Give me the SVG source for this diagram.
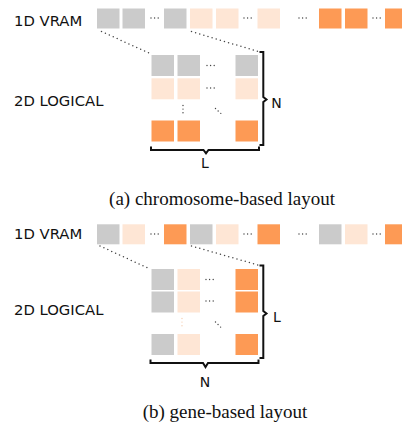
<svg xmlns="http://www.w3.org/2000/svg" width="402" height="425" viewBox="0 0 402 425">
  <style>
    .g { fill: #cbcbcb; }
    .p { fill: #fee6d5; }
    .o { fill: #fd9a55; }
    .lbl { font-family: "DejaVu Sans", sans-serif; font-size: 14.8px; fill: #111; }
    .dim { font-family: "DejaVu Sans", sans-serif; font-size: 14px; fill: #111; text-anchor: middle; }
    .cap { font-family: "Liberation Serif", serif; font-size: 19px; fill: #111; text-anchor: middle; }
    .dots { stroke: #444; stroke-width: 1.4; stroke-linecap: round; stroke-dasharray: 0 3.6; fill: none; }
    .faint { stroke: #f6cfb3; }
    .lead { stroke: #444; stroke-width: 1.5; stroke-linecap: round; stroke-dasharray: 0 4.3; fill: none; }
    .brace { stroke: #111; stroke-width: 2; fill: none; stroke-linejoin: miter; }
  </style>
  <defs>
    <rect id="cell" width="22.5" height="20"/>
    <rect id="big" width="22.5" height="21"/>
  </defs>

  <!-- (a) chromosome-based layout -->
  <g id="a-vram">
    <text class="lbl" x="14" y="26">1D VRAM</text>
    <use href="#cell" class="g" x="97" y="8.5"/>
    <use href="#cell" class="g" x="122.5" y="8.5"/>
    <use href="#cell" class="g" x="164" y="8.5"/>
    <use href="#cell" class="p" x="190" y="8.5"/>
    <use href="#cell" class="p" x="216" y="8.5"/>
    <use href="#cell" class="p" x="257.5" y="8.5"/>
    <use href="#cell" class="o" x="319" y="8.5"/>
    <use href="#cell" class="o" x="345" y="8.5"/>
    <use href="#cell" class="o" x="385" y="8.5"/>
    <line class="dots" x1="151" y1="18" x2="159" y2="18"/>
    <line class="dots" x1="244" y1="18" x2="252" y2="18"/>
    <line class="dots" x1="299" y1="18" x2="307" y2="18"/>
    <line class="dots" x1="373" y1="18" x2="381" y2="18"/>
  </g>
  <g id="a-logical">
    <text class="lbl" x="14" y="106">2D LOGICAL</text>
    <use href="#big" class="g" x="151.5" y="55"/>
    <use href="#big" class="g" x="177.5" y="55"/>
    <use href="#big" class="g" x="235.5" y="55"/>
    <use href="#big" class="p" x="151.5" y="78.3"/>
    <use href="#big" class="p" x="177.5" y="78.3"/>
    <use href="#big" class="p" x="235.5" y="78.3"/>
    <use href="#big" class="o" x="151.5" y="120.5"/>
    <use href="#big" class="o" x="177.5" y="120.5"/>
    <use href="#big" class="o" x="235.5" y="120.5"/>
    <line class="dots" x1="207" y1="65.5" x2="214.5" y2="65.5"/>
    <line class="dots" x1="207" y1="88" x2="214.5" y2="88"/>
    <line class="dots" x1="183" y1="105.5" x2="183" y2="113"/>
    <line class="dots" x1="215.5" y1="108.5" x2="221.5" y2="114"/>
  </g>
  <g id="a-braces">
    <path class="brace" d="M259.5 52 H263.3 V97 L266.5 99.5 L263.3 102 V145 H259.5"/>
    <path class="brace" d="M151 146.5 V150 H203.5 L206 153.3 L208.5 150 H259 V146.5"/>
    <text class="dim" x="276.5" y="108.3">N</text>
    <text class="dim" x="205" y="168">L</text>
  </g>

  <!-- (b) gene-based layout -->
  <g id="b-vram">
    <text class="lbl" x="14" y="239">1D VRAM</text>
    <use href="#cell" class="g" x="97" y="224.3"/>
    <use href="#cell" class="p" x="122.5" y="224.3"/>
    <use href="#cell" class="o" x="164" y="224.3"/>
    <use href="#cell" class="g" x="190" y="224.3"/>
    <use href="#cell" class="p" x="216" y="224.3"/>
    <use href="#cell" class="o" x="257.5" y="224.3"/>
    <use href="#cell" class="g" x="319" y="224.3"/>
    <use href="#cell" class="p" x="345" y="224.3"/>
    <use href="#cell" class="o" x="385" y="224.3"/>
    <line class="dots" x1="151" y1="234" x2="159" y2="234"/>
    <line class="dots" x1="244" y1="234" x2="252" y2="234"/>
    <line class="dots" x1="299" y1="234" x2="307" y2="234"/>
    <line class="dots" x1="373" y1="234" x2="381" y2="234"/>
  </g>
  <g id="b-logical">
    <text class="lbl" x="14" y="315">2D LOGICAL</text>
    <use href="#big" class="g" x="151.5" y="269"/>
    <use href="#big" class="p" x="177.5" y="269"/>
    <use href="#big" class="o" x="235.5" y="269"/>
    <use href="#big" class="g" x="151.5" y="291.5"/>
    <use href="#big" class="p" x="177.5" y="291.5"/>
    <use href="#big" class="o" x="235.5" y="291.5"/>
    <use href="#big" class="g" x="151.5" y="334"/>
    <use href="#big" class="p" x="177.5" y="334"/>
    <use href="#big" class="o" x="235.5" y="334"/>
    <line class="dots" x1="206" y1="279.5" x2="213.5" y2="279.5"/>
    <line class="dots" x1="206" y1="301" x2="213.5" y2="301"/>
    <line class="dots faint" x1="182" y1="318.5" x2="182" y2="326"/>
    <line class="dots" x1="215.5" y1="322" x2="221.5" y2="328"/>
  </g>
  <g id="b-braces">
    <path class="brace" d="M259.5 265.5 H263.3 V311 L266.5 313.5 L263.3 316 V358 H259.5"/>
    <path class="brace" d="M150.5 359.5 V363 H203 L205.5 367 L208 363 H258.5 V359.5"/>
    <text class="dim" x="277" y="321.7">L</text>
    <text class="dim" x="205" y="387">N</text>
  </g>

  <!-- leader lines from the linear store to the grid -->
  <g id="connectors">
    <line class="lead" x1="101.5" y1="31.5" x2="150" y2="53.5"/>
    <line class="lead" x1="191.5" y1="31.5" x2="258" y2="51.5"/>
    <line class="lead" x1="100" y1="246" x2="150" y2="269"/>
    <line class="lead" x1="191.5" y1="246" x2="258" y2="265"/>
  </g>

  <g id="captions">
    <text class="cap" x="222" y="205">(a) chromosome-based layout</text>
    <text class="cap" x="225" y="418">(b) gene-based layout</text>
  </g>
</svg>
